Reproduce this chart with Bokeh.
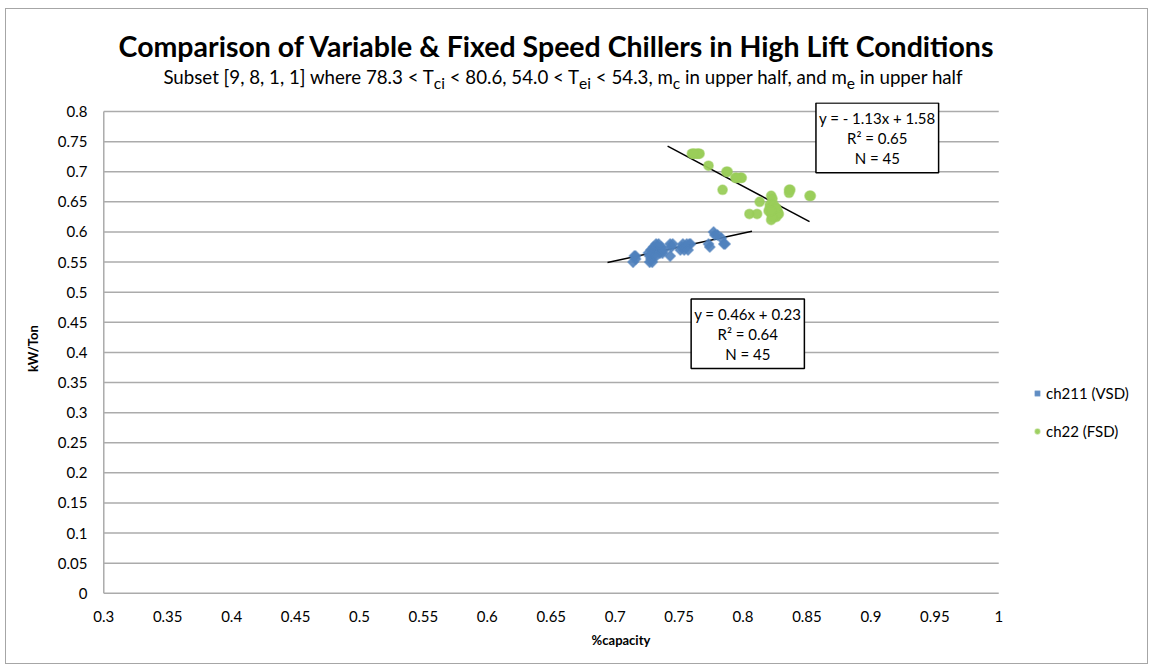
import math
from bokeh.plotting import figure
from bokeh.models import Range1d, FixedTicker, Label, Legend, LegendItem, Div, ColumnDataSource
from bokeh.layouts import column
from bokeh.embed import file_html
from bokeh.resources import INLINE

# ---------------- data ----------------
vsd_x = [0.714, 0.715, 0.716, 0.727, 0.727, 0.728, 0.728, 0.729, 0.730, 0.730,
         0.731, 0.732, 0.733, 0.734, 0.735, 0.736, 0.736, 0.737, 0.743, 0.743,
         0.744, 0.751, 0.752, 0.753, 0.754, 0.755, 0.758, 0.759, 0.773, 0.774,
         0.777, 0.778, 0.780, 0.783, 0.785, 0.786, 0.729, 0.732, 0.726, 0.738,
         0.745, 0.756, 0.757, 0.716, 0.734]
vsd_y = [0.55, 0.56, 0.555, 0.55, 0.56, 0.57, 0.555, 0.565, 0.575, 0.56,
         0.57, 0.58, 0.575, 0.57, 0.565, 0.57, 0.575, 0.565, 0.58, 0.56,
         0.575, 0.57, 0.575, 0.58, 0.57, 0.575, 0.58, 0.58, 0.58, 0.575,
         0.60, 0.595, 0.595, 0.59, 0.58, 0.58, 0.55, 0.56, 0.565, 0.57,
         0.58, 0.58, 0.57, 0.56, 0.58]

fsd_x = [0.760, 0.762, 0.764, 0.766, 0.773, 0.787, 0.794, 0.799, 0.784, 0.822,
         0.823, 0.836, 0.837, 0.853, 0.813, 0.805, 0.811, 0.822, 0.823, 0.824,
         0.826, 0.822, 0.825, 0.827, 0.821, 0.824, 0.826, 0.828, 0.820, 0.823,
         0.822, 0.825, 0.821, 0.824, 0.827, 0.826, 0.823, 0.822, 0.765, 0.761,
         0.788, 0.798, 0.795, 0.836, 0.852]
fsd_y = [0.73, 0.73, 0.73, 0.73, 0.71, 0.70, 0.69, 0.69, 0.67, 0.66,
         0.655, 0.67, 0.67, 0.66, 0.65, 0.63, 0.63, 0.64, 0.635, 0.63,
         0.63, 0.62, 0.64, 0.635, 0.645, 0.625, 0.625, 0.63, 0.635, 0.64,
         0.63, 0.635, 0.64, 0.645, 0.63, 0.64, 0.625, 0.635, 0.73, 0.73,
         0.70, 0.69, 0.69, 0.665, 0.66]

series_names = ["ch211 (VSD)", "ch22 (FSD)"]

# trendlines: slope, intercept, x-extent
trend_slope = [0.46, -1.13]
trend_intercept = [0.23, 1.58]
trend_x0 = [0.694, 0.741]
trend_x1 = [0.807, 0.852]

# annotation boxes
box_text = ["y = 0.46x + 0.23\nR² = 0.64\nN = 45",
            "y = - 1.13x + 1.58\nR² = 0.65\nN = 45"]
box_x = [0.8037, 0.905]
box_y = [0.431, 0.7563]

x_tick_labels = ["0.3", "0.35", "0.4", "0.45", "0.5", "0.55", "0.6", "0.65",
                 "0.7", "0.75", "0.8", "0.85", "0.9", "0.95", "1"]
y_tick_labels = ["0", "0.05", "0.1", "0.15", "0.2", "0.25", "0.3", "0.35",
                 "0.4", "0.45", "0.5", "0.55", "0.6", "0.65", "0.7", "0.75", "0.8"]

TITLE = "Comparison of Variable &amp; Fixed Speed Chillers in High Lift Conditions"
SUBTITLE = ("Subset [9, 8, 1, 1] where 78.3 &lt; T<sub>ci</sub> &lt; 80.6, 54.0 &lt; "
            "T<sub>ei</sub> &lt; 54.3, m<sub>c</sub> in upper half, and m<sub>e</sub> in upper half")

FONT = "Lato"
BLUE = "#4f81bd"
GREEN = "#9acd5a"
GRID = "#ababab"

# ---------------- figure ----------------
xt = [float(s) for s in x_tick_labels]
yt = [float(s) for s in y_tick_labels]
x_min, x_max = xt[0], xt[-1]
y_min, y_max = yt[0], yt[-1]

# the frame is widened past the axes so that the legend and the upper
# regression box (which sit outside the plot area) are not clipped
p = figure(frame_width=1037, frame_height=492, output_backend="svg",
           toolbar_location=None,
           x_range=Range1d(0.299, 1.1101), y_range=Range1d(-0.002, 0.815),
           min_border_left=96, min_border_right=8, min_border_top=8,
           min_border_bottom=69, background_fill_color="white",
           border_fill_color="white", outline_line_color=None)

p.xaxis.ticker = FixedTicker(ticks=xt)
p.yaxis.ticker = FixedTicker(ticks=yt)
p.xaxis.major_label_overrides = {v: s for v, s in zip(xt, x_tick_labels)}
p.yaxis.major_label_overrides = {v: s for v, s in zip(yt, y_tick_labels)}

for ax in (p.xaxis, p.yaxis):
    ax.axis_line_color = None
    ax.major_tick_line_color = None
    ax.minor_tick_line_color = None
    ax.major_label_text_font = FONT
    ax.major_label_text_font_size = "15px"
    ax.major_label_text_color = "#000000"
    ax.axis_label_text_font = FONT
    ax.axis_label_text_font_size = "13px"
    ax.axis_label_text_font_style = "bold"
    ax.axis_label_text_color = "#000000"

p.xaxis.axis_label = "%capacity"
p.yaxis.axis_label = "kW/Ton"
p.xaxis.major_label_standoff = 10
p.yaxis.major_label_standoff = 9
p.xaxis.axis_label_standoff = 7
p.yaxis.axis_label_standoff = 14

p.xgrid.visible = False
p.ygrid.visible = False

# horizontal gridlines (one per y tick) and the left axis line, limited to the axes' extent
p.segment(x0=[x_min] * len(yt), x1=[x_max] * len(yt), y0=yt, y1=yt,
          line_color=GRID, line_width=1.5)
p.line([x_min, x_min], [y_min, y_max], line_color=GRID, line_width=1.5)

# trendlines
for i in range(2):
    xs = [trend_x0[i], trend_x1[i]]
    ys = [trend_slope[i] * x + trend_intercept[i] for x in xs]
    p.line(xs, ys, line_color="black", line_width=1.5)

src_v = ColumnDataSource(dict(x=vsd_x, y=vsd_y))
src_f = ColumnDataSource(dict(x=fsd_x, y=fsd_y))
r1 = p.scatter("x", "y", source=src_v, marker="square", size=7.5, angle=math.pi / 4,
               fill_color=BLUE, line_color=BLUE, fill_alpha=0.9, line_alpha=0.5,
               line_width=1.5)
r2 = p.scatter("x", "y", source=src_f, marker="circle", size=9.5,
               fill_color=GREEN, line_color=GREEN, fill_alpha=0.95, line_alpha=0.5,
               line_width=1.5)

for i in range(2):
    p.add_layout(Label(x=box_x[i], y=box_y[i], text=box_text[i],
                       text_align="center", text_baseline="middle",
                       text_font=FONT, text_font_size="15px", text_color="black",
                       text_line_height=1.1,
                       border_line_color="black", border_line_width=1.5,
                       background_fill_color="white", padding=(3, 6)))

legend = Legend(items=[LegendItem(label=series_names[0], renderers=[r1]),
                       LegendItem(label=series_names[1], renderers=[r2])],
                location=(929, 154), padding=0, margin=0, spacing=20,
                glyph_width=12, glyph_height=18, label_height=18,
                label_standoff=3, border_line_color=None,
                background_fill_alpha=0, label_text_font=FONT,
                label_text_font_size="15px", label_text_color="black")
p.add_layout(legend, "center")

div = Div(text=(f"<div style='text-align:center;font-family:Lato;color:#000;'>"
                f"<div style='width:1100px;font-size:28.5px;font-weight:bold;line-height:32px;padding-top:21px;'>{TITLE}</div>"
                f"<div style='width:1114px;font-size:18.7px;line-height:22px;margin-top:4px;'>{SUBTITLE}</div></div>"),
          width=1141, height=85, margin=0)

layout = column(div, p, styles={"border": "1px solid #a6a6a6"}, spacing=0,
                margin=(8, 0, 0, 5))

open("out.html", "w").write(file_html(layout, INLINE))
